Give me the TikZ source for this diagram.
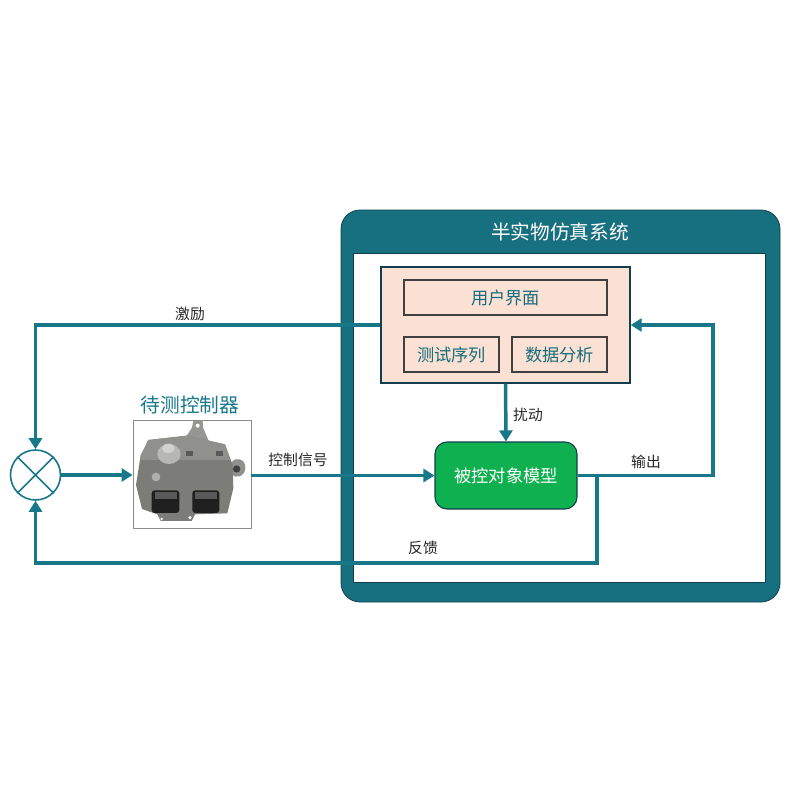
\documentclass[tikz,border=0pt]{standalone}
\usepackage{fontspec}
\setmainfont{Noto Sans CJK SC}
\usetikzlibrary{arrows.meta,calc}
\definecolor{teal1}{HTML}{18788A}
\definecolor{framecol}{HTML}{17707F}
\definecolor{tealdark}{HTML}{123F4F}
\definecolor{pinkfill}{HTML}{FBE1D3}
\definecolor{greenfill}{HTML}{0FB04F}
\definecolor{bodygray}{HTML}{7C7C78}
\tikzset{
 conn/.style={draw=teal1,line width=3.5pt,-{Triangle[length=11pt,width=13pt]}},
 innerbox/.style={draw=black!75,line width=1.3pt,fill=pinkfill,text=teal1!90!black,font=\fontsize{17.2}{19}\selectfont,inner sep=0pt,minimum height=35pt,anchor=center},
 lab/.style={text=black!85,font=\fontsize{14.8}{16}\selectfont,inner sep=0pt},
}
\begin{document}
\begin{tikzpicture}[x=1pt,y=-1pt]
\useasboundingbox (0,0) rectangle (800,800);
% frame
\node[draw=tealdark,line width=0.8pt,fill=framecol,rounded corners=19pt,minimum width=439pt,minimum height=392pt,inner sep=0pt] (frame) at (560.5,406) {};
\node[draw=tealdark,line width=0.8pt,fill=white,minimum width=412pt,minimum height=329pt,inner sep=0pt] (inner) at (559,417.5) {};
\node[text=white,font=\fontsize{19.7}{21}\selectfont,inner sep=0pt] (title) at (560,232) {半实物仿真系统};
% user interface block
\node[draw=tealdark,line width=1.4pt,fill=pinkfill,minimum width=249pt,minimum height=116pt,inner sep=0pt] (ui) at (505.5,325) {};
\node[innerbox,minimum width=203pt] (ui1) at (505.5,297.5) {用户界面};
\node[innerbox,minimum width=95pt] (ui2) at (451.5,354.5) {测试序列};
\node[innerbox,minimum width=95pt] (ui3) at (559.5,354.5) {数据分析};
% green
\node[draw=tealdark,line width=1.1pt,fill=greenfill,rounded corners=12pt,minimum width=142pt,minimum height=67pt,inner sep=0pt,text=white,font=\fontsize{17.3}{19}\selectfont] (plant) at (506,475.5) {被控对象模型};
% sum
\node[circle,draw=teal1,line width=1.6pt,fill=white,minimum size=50pt,inner sep=0pt] (sum) at (35.5,475) {};
\draw[teal1,line width=1.6pt] (sum.45) -- (sum.225) (sum.135) -- (sum.315);
% device
\node[draw=black!45,line width=0.8pt,fill=white,minimum width=118pt,minimum height=108pt,inner sep=0pt] (dut) at (192,474) {};
\node[text=teal1,font=\fontsize{19.7}{21}\selectfont,inner sep=0pt] (dutlab) at (190,404.5) {待测控制器};
\begin{scope}[shift={(120,385)},scale=0.3333]
 % bracket
 \fill[bodygray!80] (200,152) -- (216,128) -- (220,108) -- (248,108) -- (250,130) -- (268,172) -- (200,172) -- cycle;
 \fill[white] (233,122) circle (6);
 % lug
 \fill[bodygray!85] (335,232) .. controls (345,215) and (378,220) .. (376,250) .. controls (374,276) and (345,282) .. (335,268) -- cycle;
 \fill[black!75] (350,252) circle (11);
 % body
 \fill[bodygray] (85,165) -- (200,152) -- (315,178) -- (338,240) -- (340,310) -- (322,385) -- (225,388) -- (215,408) -- (122,408) -- (112,388) -- (66,372) -- (48,300) -- (62,212) -- cycle;
 \fill[bodygray!85] (85,165) -- (200,152) -- (315,178) -- (330,225) -- (62,225) -- (62,212) -- cycle;
 % knob
 \fill[bodygray!55] (147,207) ellipse (35 and 30);
 \fill[bodygray!35] (145,190) ellipse (19 and 14);
 \fill[black!65] (198,198) rectangle (218,214);
 \fill[black!65] (288,198) rectangle (308,214);
 \fill[bodygray!60] (108,276) circle (13);
 % connectors
 \fill[black!88,rounded corners=3pt] (95,316) rectangle (178,384);
 \fill[black!88,rounded corners=3pt] (217,316) rectangle (298,384);
 \fill[black!65] (104,322) rectangle (170,342);
 \fill[black!65] (225,322) rectangle (290,342);
 \fill[white] (125,402) circle (4) (210,398) circle (5);
\end{scope}
% connectors
\coordinate (c1) at (sum.north |- ui.west);
\draw[conn] (ui.west) -- (c1) -- (sum.north);
\draw[conn] (sum.east) -- (sum.east -| dut.west);
\draw[conn] (dut.east |- plant.west) -- (plant.west);
\draw[conn] (ui.south) -- (plant.north);
\coordinate (c2) at (713,475.5);
\coordinate (c3) at (713,325);
\draw[conn] (plant.east) -- (c2) -- (c3) -- (ui.east);
\coordinate (j) at (597,475.5);
\coordinate (c4) at (597,563);
\coordinate (c5) at (sum.south |- c4);
\draw[conn] (j) -- (c4) -- (c5) -- (sum.south);
% labels
\node[lab] (l1) at (190,313.5) {激励};
\node[lab] (l2) at (298,459.5) {控制信号};
\node[lab] (l3) at (528,415) {扰动};
\node[lab] (l4) at (646,461.5) {输出};
\node[lab] (l5) at (423,548) {反馈};
\end{tikzpicture}
\end{document}
